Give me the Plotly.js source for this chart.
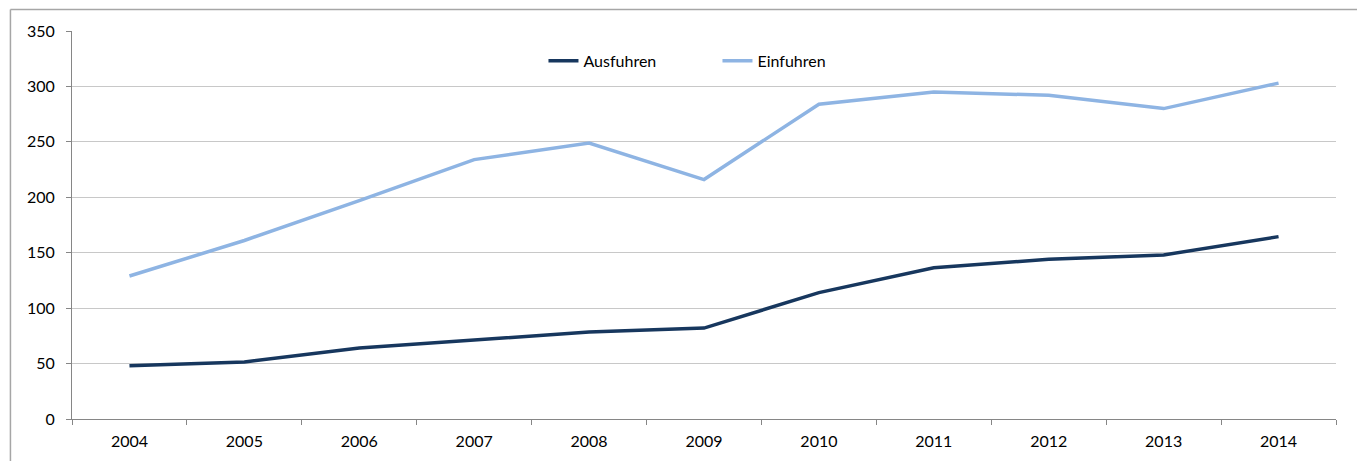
<!DOCTYPE html>
<html>
<head>
<meta charset="utf-8">
<script src="https://cdn.plot.ly/plotly-3.0.1.min.js"></script>
<style>html,body{margin:0;padding:0;background:#fff;}#chart{width:1357px;height:461px;}</style>
</head>
<body>
<div id="chart"></div>
<script>
const years = ['2004','2005','2006','2007','2008','2009','2010','2011','2012','2013','2014'];
const ausfuhren = [48, 51.5, 64, 71.5, 78.5, 82, 114, 136.5, 144, 148, 164.5];
const einfuhren = [129, 161, 197, 234, 249, 216, 284, 295, 292, 280, 303];
const yTicks = [0, 50, 100, 150, 200, 250, 300, 350];

const traces = [
  {x: years, y: ausfuhren, name: 'Ausfuhren', type: 'scatter', mode: 'lines',
   line: {color: '#17375E', width: 3.5}},
  {x: years, y: einfuhren, name: 'Einfuhren', type: 'scatter', mode: 'lines',
   line: {color: '#8EB4E3', width: 3.5}}
];

const layout = {
  width: 1357, height: 461,
  margin: {l: 72, r: 21, t: 31, b: 42},
  paper_bgcolor: '#fff', plot_bgcolor: '#fff',
  font: {family: 'Lato, sans-serif', size: 16, color: '#000'},
  showlegend: true,
  legend: {orientation: 'h', x: 0.373, xanchor: 'left', y: 0.923, yanchor: 'middle',
           font: {size: 16}, bgcolor: 'rgba(0,0,0,0)', entrywidth: 129, entrywidthmode: 'pixels'},
  xaxis: {type: 'category', range: [-0.5, 10.5], tickson: 'boundaries',
          ticks: 'outside', ticklen: 5, tickcolor: '#868686', showline: true,
          linecolor: '#868686', linewidth: 1, showgrid: false, zeroline: false,
          tickfont: {size: 16}, ticklabelstandoff: 8, fixedrange: true},
  yaxis: {range: [0, 350], tickvals: yTicks, ticks: 'outside', ticklen: 5,
          tickcolor: '#868686', showline: true, linecolor: '#868686', linewidth: 1,
          showgrid: true, gridcolor: '#c8c8c8', gridwidth: 1, zeroline: false,
          tickfont: {size: 16}, ticklabelstandoff: 8, fixedrange: true},
  shapes: [
    {type: 'line', xref: 'paper', yref: 'paper', x0: -0.0487, x1: 1.1, y0: 1.0554, y1: 1.0554,
     line: {color: '#a6a6a6', width: 1.5}},
    {type: 'line', xref: 'paper', yref: 'paper', x0: -0.0487, x1: -0.0487, y0: 1.0554, y1: -0.2,
     line: {color: '#a6a6a6', width: 1.5}}
  ]
};

Plotly.newPlot('chart', traces, layout, {displayModeBar: false, staticPlot: true});
</script>
</body>
</html>
